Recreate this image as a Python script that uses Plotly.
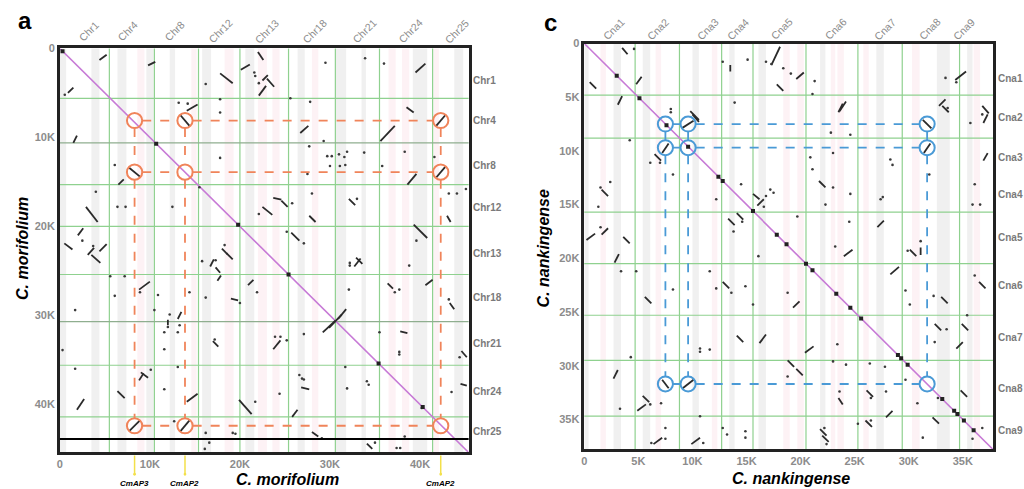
import plotly.graph_objects as go

# ---------------- panel a data (units: K) ----------------
RANGE_A = 45.4
chr_a = ['Chr1', 'Chr4', 'Chr8', 'Chr12', 'Chr13', 'Chr18', 'Chr21', 'Chr24', 'Chr25']
bounds_ax = [5.5, 10.5, 15.4, 20.0, 25.4, 30.6, 35.5, 41.4]
bounds_ay = [5.6, 10.6, 15.3, 20.0, 25.4, 30.7, 35.6, 41.4]
top_lab_a = [3.2, 7.5, 12.7, 17.8, 23.0, 28.3, 33.8, 38.9, 44.1]
side_lab_a = [3.6, 8.1, 13.1, 17.9, 23.0, 28.0, 33.1, 38.6, 43.1]
ticks_a = [0, 10, 20, 30, 40]
tick_text_a = ['0', '10K', '20K', '30K', '40K']
black_line_a = 43.9

dots_a = [
    (17.8, 5.7), (13.2, 6.1), (14.2, 6.2), (17.8, 7.2), (0.55, 5.2), (21.6, 2.7), (21.7, 3.1),
    (16.2, 4.0), (22.1, 3.9), (33.9, 1.1), (29.5, 1.6), (36.0, 1.7), (27.8, 6.0), (25.6, 5.6),
    (29.3, 10.4), (27.7, 11.0), (29.7, 12.1), (30.2, 12.1), (31.0, 11.9), (31.6, 12.2), (31.9, 11.6),
    (30.0, 13.2), (31.1, 13.2), (31.7, 13.1), (33.8, 11.7), (38.3, 11.6), (41.6, 12.2), (35.8, 13.2),
    (27.5, 14.1), (17.8, 12.3), (6.1, 13.1), (4.0, 16.1), (6.4, 17.8), (7.3, 17.8), (12.5, 17.8),
    (15.5, 15.6), (25.8, 17.4), (28.0, 16.3), (33.0, 16.9), (22.1, 18.6), (43.2, 16.3), (44.1, 16.3),
    (45.1, 15.8), (39.6, 21.6), (25.2, 20.6), (27.1, 21.9), (2.5, 21.6), (3.7, 22.2), (18.3, 22.1),
    (17.3, 23.8), (15.8, 23.9), (32.2, 24.1), (32.2, 24.4), (38.8, 24.4), (5.6, 25.6), (7.2, 25.6),
    (8.9, 27.4), (6.1, 27.8), (21.9, 27.4), (16.2, 28.0), (20.0, 28.6), (10.9, 27.7), (14.4, 27.4),
    (37.7, 27.1), (37.2, 27.4), (43.2, 28.2), (32.1, 27.1), (1.7, 29.4), (10.5, 29.4), (12.2, 29.9),
    (12.0, 31.3), (11.6, 31.9), (13.3, 31.1), (13.1, 31.9), (35.5, 31.9), (27.1, 32.1), (0.3, 33.9),
    (17.2, 32.7), (23.9, 32.4), (24.5, 32.4), (25.2, 32.8), (11.6, 33.8), (37.7, 34.1), (37.7, 34.4),
    (44.4, 34.7), (1.7, 36.0), (13.1, 35.8), (31.7, 35.8), (10.1, 36.1), (26.6, 36.7), (27.1, 37.2),
    (26.9, 37.1), (31.9, 38.2), (34.3, 37.8), (34.1, 37.4), (43.5, 38.6), (11.6, 38.3), (21.7, 39.7),
    (24.4, 38.8), (12.7, 41.9), (16.2, 43.2), (19.2, 43.2), (19.5, 43.3), (29.1, 43.8), (38.3, 43.6),
    (16.6, 44.3), (16.1, 45.0), (35.0, 44.3), (37.4, 44.9), (37.8, 44.9), (40.2, 40.4),
]
blocks_a = [
    (4.4, 1.3, 5.2, 0.7), (9.8, 1.9, 10.6, 1.5), (0.9, 5.0, 1.5, 4.4), (14.1, 7.0, 15.3, 6.3),
    (22.0, 0.4, 22.6, 1.3), (20.1, 2.4, 21.1, 1.8), (17.8, 2.8, 19.2, 3.9), (22.5, 3.6, 23.1, 3.0),
    (23.0, 3.4, 23.8, 4.3), (22.1, 5.3, 22.9, 4.2), (39.5, 2.7, 40.6, 1.7), (38.5, 6.6, 39.3, 7.2),
    (1.5, 10.6, 1.9, 9.8), (26.7, 9.5, 27.6, 8.7), (35.6, 10.4, 37.2, 8.7), (38.6, 15.3, 39.6, 14.1),
    (6.5, 15.3, 7.1, 14.7), (2.9, 17.8, 4.2, 19.5), (23.7, 16.8, 24.6, 17.0), (24.6, 17.1, 25.3, 17.8),
    (32.1, 16.9, 32.8, 17.6), (22.5, 17.8, 23.6, 18.7), (27.7, 18.8, 28.4, 19.5), (43.0, 18.8, 43.4, 19.5),
    (39.3, 19.8, 40.8, 21.3), (25.7, 20.7, 26.6, 21.6), (2.0, 21.0, 2.6, 20.2), (0.5, 21.9, 1.4, 22.6),
    (3.1, 23.2, 3.8, 22.4), (3.5, 23.2, 4.5, 24.1), (4.4, 22.8, 5.2, 22.0), (18.0, 22.5, 18.6, 23.1),
    (18.5, 23.0, 19.2, 23.7), (32.9, 23.5, 33.6, 24.2), (16.7, 24.5, 17.1, 23.7), (17.3, 24.6, 17.8, 25.2),
    (17.5, 26.1, 17.9, 25.5), (32.7, 24.5, 33.4, 23.6), (8.8, 27.1, 10.0, 26.2), (20.9, 26.6, 21.5, 26.0),
    (19.0, 28.1, 19.8, 28.3), (36.4, 26.4, 37.0, 27.0), (40.6, 26.6, 41.4, 26.0), (43.3, 28.6, 43.8, 29.3),
    (13.1, 30.4, 13.5, 29.6), (12.0, 30.5, 12.0, 31.1), (30.9, 30.4, 31.8, 29.3), (29.2, 31.9, 30.6, 30.6),
    (37.8, 31.8, 38.6, 32.0), (17.0, 32.9, 17.6, 33.5), (23.7, 33.8, 24.5, 32.8), (44.6, 34.0, 45.2, 34.7),
    (9.0, 36.4, 9.8, 37.0), (8.8, 37.3, 9.3, 36.5), (26.8, 38.1, 27.7, 38.3), (44.5, 37.7, 45.2, 37.9),
    (6.4, 38.5, 7.2, 39.3), (14.1, 39.7, 15.3, 38.8), (1.9, 40.6, 2.7, 39.4), (19.9, 39.5, 21.3, 41.1),
    (25.8, 41.4, 26.4, 40.6), (28.0, 43.1, 28.7, 43.6), (34.1, 44.4, 34.7, 45.0), (29.9, 31.4, 31.3, 29.9),
    (13.4, 7.5, 14.4, 8.7), (41.8, 8.7, 42.8, 7.5), (7.7, 13.4, 8.9, 14.4), (41.8, 14.5, 42.8, 13.3),
    (7.7, 43.0, 8.9, 41.8), (13.4, 43.0, 14.4, 41.8),
]
diag_spots_a = [(0.3, 0.3), (10.7, 10.7), (19.8, 19.8), (25.4, 25.4), (35.4, 35.4), (40.3, 40.3)]
circ_cols_a = [8.3, 13.9, 42.3]
circ_rows_a = [8.1, 13.9, 42.4]
genes_a = ['CmAP3', 'CmAP2', 'CmAP2']
stripes_gray_a = [(0.0, 0.7), (3.5, 4.4), (6.4, 7.4), (9.6, 10.4), (12.2, 12.8), (15.8, 16.8), (20.6, 21.6),
                  (26.4, 27.2), (30.6, 31.8), (33.5, 34.0), (39.2, 40.8), (43.8, 44.8)]
stripes_pink_a = [(8.6, 9.4), (14.6, 15.2), (18.3, 19.3), (22.0, 23.0), (23.6, 24.4), (28.0, 28.7),
                  (36.5, 37.3), (38.0, 38.8), (41.5, 42.1)]

# ---------------- panel c data (units: K) ----------------
RANGE_C = 37.8
cna = ['Cna1', 'Cna2', 'Cna3', 'Cna4', 'Cna5', 'Cna6', 'Cna7', 'Cna8', 'Cna9']
bounds_cx = [4.7, 8.8, 12.7, 15.6, 20.5, 25.3, 29.4, 34.7]
bounds_cy = [4.8, 8.8, 15.7, 20.5, 25.3, 29.5, 34.7]
top_lab_c = [2.7, 6.8, 11.4, 14.2, 18.2, 23.2, 27.8, 31.9, 35.1]
side_lab_c = [3.3, 6.9, 10.6, 14.1, 18.1, 22.5, 27.4, 32.1, 36.0]
ticks_c = [0, 5, 10, 15, 20, 25, 30, 35]
tick_text_c = ['0', '5K', '10K', '15K', '20K', '25K', '30K', '35K']

dots_c = [
    (4.6, 0.5), (12.8, 1.7), (15.1, 1.5), (16.8, 1.7), (17.3, 1.9), (18.4, 2.3), (19.1, 2.8), (21.3, 3.5),
    (21.1, 4.7), (34.4, 3.6), (33.4, 3.2), (33.6, 6.0), (36.8, 6.6), (8.0, 6.4), (13.9, 5.5), (8.0, 6.1),
    (35.7, 7.4), (4.2, 9.0), (22.8, 8.3), (24.6, 8.5), (6.1, 11.1), (7.0, 11.1), (8.2, 12.2), (23.0, 10.2),
    (20.9, 10.6), (21.1, 11.7), (28.3, 10.8), (28.5, 11.3), (31.9, 12.2), (1.5, 13.4), (2.4, 12.9),
    (1.3, 15.2), (14.5, 13.1), (17.2, 13.6), (17.5, 13.9), (16.8, 14.2), (16.6, 15.2), (12.2, 14.5),
    (23.0, 13.4), (22.3, 15.0), (24.6, 14.0), (27.4, 14.5), (27.6, 14.3), (36.1, 13.1), (35.9, 15.0),
    (36.6, 15.0), (19.7, 16.1), (14.6, 16.6), (13.8, 17.5), (24.5, 16.6), (1.5, 17.1), (23.2, 18.9),
    (29.9, 19.3), (31.1, 18.4), (16.1, 19.8), (3.4, 21.2), (4.8, 21.2), (11.6, 21.2), (14.9, 22.6),
    (12.2, 22.8), (13.6, 23.2), (8.2, 22.9), (29.7, 23.0), (36.1, 21.6), (18.8, 23.2), (15.6, 24.3),
    (30.1, 24.3), (32.3, 23.5), (35.4, 25.3), (33.5, 26.6), (32.4, 27.8), (10.7, 28.4), (11.6, 28.5),
    (10.7, 28.7), (23.4, 28.0), (4.3, 29.2), (18.8, 31.0), (23.0, 29.6), (24.2, 29.9), (26.4, 29.8),
    (27.8, 30.1), (29.7, 31.3), (23.6, 32.4), (26.5, 33.0), (27.9, 32.4), (32.7, 33.0), (30.8, 33.5),
    (6.1, 33.6), (7.1, 33.5), (3.3, 34.0), (26.5, 35.1), (25.3, 35.4), (31.3, 36.7), (36.8, 35.8),
    (35.9, 36.8), (7.5, 35.8), (7.5, 36.8), (6.2, 37.2), (11.0, 37.2), (12.8, 35.8), (13.2, 36.4),
    (14.9, 36.1), (14.9, 36.7), (10.7, 34.7), (22.4, 37.3), (22.2, 35.8),
]
blocks_c = [
    (3.5, 0.4, 4.0, 1.0), (0.5, 3.6, 1.1, 4.2), (4.8, 3.8, 5.3, 3.1), (3.1, 5.7, 3.5, 4.9),
    (13.5, 2.0, 13.5, 2.6), (17.3, 2.0, 18.1, 0.3), (19.6, 3.3, 20.3, 2.7), (17.8, 3.8, 18.4, 4.4),
    (34.3, 3.4, 35.3, 2.6), (23.6, 6.3, 24.2, 5.4), (32.8, 5.8, 33.4, 5.2), (36.8, 5.8, 37.4, 6.5),
    (9.8, 6.3, 10.6, 7.1), (10.0, 6.6, 10.6, 7.3), (23.5, 6.4, 23.9, 5.6), (33.1, 5.8, 33.7, 6.4),
    (36.9, 7.4, 37.3, 6.6), (6.5, 10.3, 7.1, 10.9), (36.9, 10.9, 37.3, 10.2), (1.6, 13.6, 2.2, 14.2),
    (15.6, 14.0, 16.2, 14.5), (16.0, 15.1, 16.6, 14.5), (21.7, 12.8, 22.3, 13.4), (14.1, 15.8, 14.7, 16.4),
    (13.3, 16.3, 13.9, 16.9), (27.1, 17.1, 27.7, 16.5), (0.2, 18.3, 1.0, 17.7), (1.6, 17.8, 2.2, 17.2),
    (3.6, 18.0, 4.2, 18.6), (24.0, 19.8, 24.8, 19.2), (30.1, 19.2, 30.7, 19.8), (31.1, 19.0, 31.1, 19.7),
    (2.8, 20.4, 3.2, 19.6), (12.8, 22.2, 13.4, 22.8), (28.3, 21.5, 29.1, 20.8), (36.5, 22.2, 37.1, 22.8),
    (19.3, 24.6, 19.9, 24.0), (5.6, 23.6, 6.2, 24.2), (33.0, 23.6, 33.6, 24.2), (32.4, 26.1, 33.0, 26.7),
    (34.9, 26.1, 35.5, 26.7), (34.4, 28.4, 35.0, 27.8), (14.1, 27.2, 14.7, 27.8), (16.2, 27.9, 16.8, 27.1),
    (20.4, 28.8, 21.2, 28.2), (18.8, 29.5, 19.4, 30.1), (19.6, 30.3, 20.2, 30.9), (2.7, 31.2, 3.1, 30.4),
    (23.5, 33.0, 23.9, 33.6), (26.1, 32.3, 26.7, 32.9), (34.8, 32.3, 35.4, 32.9), (5.4, 32.8, 6.0, 33.4),
    (4.9, 34.2, 5.7, 33.6), (26.0, 35.1, 26.6, 35.7), (27.9, 34.8, 28.5, 34.2), (32.2, 34.8, 32.8, 35.4),
    (6.4, 37.3, 7.2, 36.7), (9.9, 37.3, 10.7, 36.7), (21.8, 35.9, 22.4, 36.5), (22.0, 36.5, 22.6, 37.1),
    (9.0, 7.9, 10.1, 7.2), (31.3, 7.1, 32.1, 7.9), (7.2, 10.2, 7.8, 9.3), (31.4, 10.2, 32.0, 9.3),
    (7.2, 31.3, 7.8, 32.1), (9.1, 32.1, 10.1, 31.3),
]
diag_spots_c = [(3.0, 3.0), (5.1, 5.1), (7.6, 7.6), (9.6, 9.6), (12.4, 12.4), (12.8, 12.8), (15.6, 15.6),
                (17.8, 17.8), (18.7, 18.7), (20.5, 20.5), (21.1, 21.1), (23.3, 23.3), (24.6, 24.6),
                (25.6, 25.6), (29.0, 29.0), (29.3, 29.3), (29.9, 29.9), (33.1, 33.1), (34.2, 34.2),
                (34.5, 34.5), (35.1, 35.1), (36.0, 36.0)]
circ_cols_c = [7.5, 9.6, 31.7]
circ_rows_c = [7.5, 9.7, 31.7]
stripes_gray_c = [(0.0, 0.4), (2.7, 3.4), (5.4, 6.1), (10.0, 10.6), (13.4, 13.9), (16.1, 16.8), (21.8, 22.3),
                  (27.0, 27.7), (32.6, 33.8), (35.4, 35.9)]
stripes_pink_c = [(1.5, 2.0), (6.6, 7.1), (11.8, 12.3), (18.4, 19.0), (19.7, 20.3), (22.8, 23.2),
                  (23.4, 24.0), (25.8, 26.3), (30.3, 31.0), (36.0, 36.6)]

# ---------------- figure ----------------
W, H = 1024, 489
def px(x):
    return x / W
def py(y):
    return 1 - y / H

fig = go.Figure()
shapes = []
annotations = []

GREY_STRIPE = 'rgba(0,0,0,0.06)'
PINK_STRIPE = 'rgba(235,150,170,0.12)'
GREEN = '#8fd18f'
FONT = 'Liberation Sans, Arial, sans-serif'
TICK_GREY = '#8c8c8c'
LAB_GREY = '#7a7a7a'

def ann(**kw):
    kw.setdefault('showarrow', False)
    kw.setdefault('xanchor', 'center')
    kw.setdefault('yanchor', 'middle')
    annotations.append(kw)

def panel(xr, yr, rng, bx, by, stripes_g, stripes_p, dots, blocks, spots, cols, rows, r, ccolor,
          top_lab, side_lab, names, side_x_px, top_y_px, dark_rows=()):
    for (a, b) in stripes_g:
        shapes.append(dict(type='rect', xref=xr, yref=yr + ' domain', x0=a, x1=b, y0=0, y1=1,
                           fillcolor=GREY_STRIPE, line_width=0, layer='below'))
    for (a, b) in stripes_p:
        shapes.append(dict(type='rect', xref=xr, yref=yr + ' domain', x0=a, x1=b, y0=0, y1=1,
                           fillcolor=PINK_STRIPE, line_width=0, layer='below'))
    for v in bx:
        shapes.append(dict(type='line', xref=xr, yref=yr + ' domain', x0=v, x1=v, y0=0, y1=1,
                           line=dict(color=GREEN, width=1.2), layer='below'))
    for i, v in enumerate(by):
        col = '#8fae8f' if i in dark_rows else GREEN
        shapes.append(dict(type='line', xref=xr + ' domain', yref=yr, x0=0, x1=1, y0=v, y1=v,
                           line=dict(color=col, width=1.2), layer='below'))
    fig.add_trace(go.Scatter(x=[0, rng], y=[0, rng], mode='lines', xaxis=xr, yaxis=yr,
                             line=dict(color='#c77ad6', width=1.6), hoverinfo='skip', showlegend=False))
    bx_, by_ = [], []
    for (x0, y0, x1, y1) in blocks:
        bx_ += [x0, x1, None]
        by_ += [y0, y1, None]
    fig.add_trace(go.Scatter(x=bx_, y=by_, mode='lines', xaxis=xr, yaxis=yr,
                             line=dict(color='#2a2a2a', width=1.8), hoverinfo='skip', showlegend=False))
    fig.add_trace(go.Scatter(x=[d[0] for d in dots], y=[d[1] for d in dots], mode='markers', xaxis=xr,
                             yaxis=yr, marker=dict(color='#3a3a3a', size=2.6), hoverinfo='skip',
                             showlegend=False))
    fig.add_trace(go.Scatter(x=[d[0] for d in spots], y=[d[1] for d in spots], mode='markers', xaxis=xr,
                             yaxis=yr, marker=dict(color='#222222', size=4, symbol='square'),
                             hoverinfo='skip', showlegend=False))
    for yc in rows:
        for xc in cols:
            shapes.append(dict(type='circle', xref=xr, yref=yr, x0=xc - r, x1=xc + r, y0=yc - r, y1=yc + r,
                               line=dict(color=ccolor, width=2)))
    for yc in rows:
        for a, b in zip(cols[:-1], cols[1:]):
            shapes.append(dict(type='line', xref=xr, yref=yr, x0=a + r, x1=b - r, y0=yc, y1=yc,
                               line=dict(color=ccolor, width=1.8, dash='dash')))
    for xc in cols:
        for a, b in zip(rows[:-1], rows[1:]):
            shapes.append(dict(type='line', xref=xr, yref=yr, x0=xc, x1=xc, y0=a + r, y1=b - r,
                               line=dict(color=ccolor, width=1.8, dash='dash')))
    for name, xv in zip(names, top_lab):
        ann(text=name, xref=xr, yref='paper', x=xv, y=py(top_y_px), textangle=-45,
            font=dict(family=FONT, size=10.5, color=TICK_GREY))
    for name, yv in zip(names, side_lab):
        ann(text='<b>' + name + '</b>', xref='paper', yref=yr, x=px(side_x_px), y=yv, xanchor='left',
            font=dict(family=FONT, size=10, color=LAB_GREY))

panel('x', 'y', RANGE_A, bounds_ax, bounds_ay, stripes_gray_a, stripes_pink_a, dots_a, blocks_a,
      diag_spots_a, circ_cols_a, circ_rows_a, 0.85, '#f0845a', top_lab_a, side_lab_a, chr_a, 469, 25,
      dark_rows=(1, 5))
panel('x2', 'y2', RANGE_C, bounds_cx, bounds_cy, stripes_gray_c, stripes_pink_c, dots_c, blocks_c,
      diag_spots_c, circ_cols_c, circ_rows_c, 0.7, '#4a9ad6', top_lab_c, side_lab_c, cna, 996, 23)

shapes.append(dict(type='line', xref='x domain', yref='y', x0=0, x1=1, y0=black_line_a, y1=black_line_a,
                   line=dict(color='black', width=2)))

for xc, g in zip(circ_cols_a, genes_a):
    shapes.append(dict(type='line', xref='x', yref='paper', x0=xc, x1=xc, y0=py(455), y1=py(474),
                       line=dict(color='#f3e04a', width=1.5)))
    shapes.append(dict(type='circle', xref='x', yref='paper', x0=xc - 0.15, x1=xc + 0.15,
                       y0=py(475.5), y1=py(472.5), fillcolor='#f3e04a', line_width=0))
    ann(text='<b><i>' + g + '</i></b>', xref='x', yref='paper', x=xc, y=py(483),
        font=dict(family=FONT, size=8, color='black'))

title_font = dict(family=FONT, size=16, color='black')
ann(text='<b><i>C. morifolium</i></b>', xref='paper', yref='paper', x=px(285), y=py(479), font=title_font)
ann(text='<b><i>C. morifolium</i></b>', xref='paper', yref='paper', x=px(20), y=py(245), textangle=-90,
    font=title_font)
ann(text='<b><i>C. nankingense</i></b>', xref='paper', yref='paper', x=px(790), y=py(478), font=title_font)
ann(text='<b><i>C. nankingense</i></b>', xref='paper', yref='paper', x=px(543), y=py(245), textangle=-90,
    font=title_font)
ann(text='<b>a</b>', xref='paper', yref='paper', x=px(22), y=py(15), font=dict(family=FONT, size=24, color='black'))
ann(text='<b>c</b>', xref='paper', yref='paper', x=px(549), y=py(17), font=dict(family=FONT, size=24, color='black'))

def axis(dom, rng, tv, tt, anchor, rev=False):
    return dict(domain=dom, range=[rng, 0] if rev else [0, rng], tickvals=tv,
                ticktext=['<b>' + t + '</b>' for t in tt], showgrid=False, zeroline=False,
                showline=True, mirror=True, linecolor='#222222', linewidth=2.5, ticks='',
                tickfont=dict(family=FONT, size=11, color=TICK_GREY), fixedrange=True, anchor=anchor)

fig.update_layout(
    width=W, height=H, margin=dict(l=0, r=0, t=0, b=0),
    paper_bgcolor='white', plot_bgcolor='white',
    xaxis=axis([px(57), px(467)], RANGE_A, ticks_a, tick_text_a, 'y'),
    yaxis=axis([py(452), py(43)], RANGE_A, ticks_a, tick_text_a, 'x', rev=True),
    xaxis2=axis([px(583), px(993)], RANGE_C, ticks_c, tick_text_c, 'y2'),
    yaxis2=axis([py(449), py(38)], RANGE_C, ticks_c, tick_text_c, 'x2', rev=True),
    shapes=shapes, annotations=annotations, showlegend=False,
)

# remove the browser's default page margin so the figure sits at the window's top-left corner
fig.write_html('out.html', config={'displayModeBar': False},
               post_script="document.body.style.margin='0px';document.body.style.overflow='hidden';")
